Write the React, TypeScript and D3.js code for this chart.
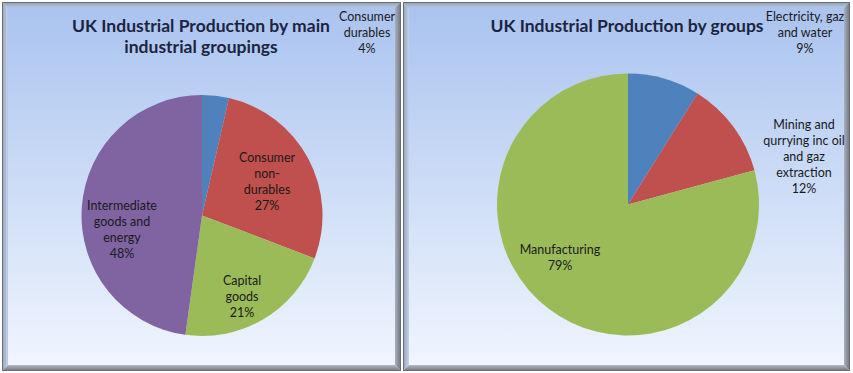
import React, { useEffect, useRef } from 'react';
import * as d3 from 'd3';

// Left chart: main industrial groupings (share of production, %)
const groupingNames = ['Consumer durables', 'Consumer non-durables', 'Capital goods', 'Intermediate goods and energy'];
const groupingValues = [3.6, 27.2, 21.4, 47.8];
const groupingLabelLines = [
  ['Consumer', 'durables'],
  ['Consumer', 'non-', 'durables'],
  ['Capital', 'goods'],
  ['Intermediate', 'goods and', 'energy'],
];

// Right chart: production by groups (%)
const groupNames = ['Electricity, gaz and water', 'Mining and qurrying inc oil and gaz extraction', 'Manufacturing'];
const groupValues = [8.9, 11.9, 79.2];
const groupLabelLines = [
  ['Electricity, gaz', 'and water'],
  ['Mining and', 'qurrying inc oil', 'and gaz', 'extraction'],
  ['Manufacturing'],
];

const sliceColors = ['#4f81bd', '#c0504d', '#9bbb59', '#8064a2'];

const W = 853;
const H = 373;

interface PanelSpec {
  x0: number;
  x1: number;
  title: string[];
  titleX: number;
  cx: number;
  cy: number;
  r: number;
  names: string[];
  values: number[];
  lines: string[][];
  labelPos: [number, number][]; // text centre x, first baseline y
}

const panels: PanelSpec[] = [
  {
    x0: 2, x1: 401,
    title: ['UK Industrial Production by main', 'industrial groupings'],
    titleX: 201,
    cx: 202, cy: 215.5, r: 120.5,
    names: groupingNames,
    values: groupingValues,
    lines: groupingLabelLines,
    labelPos: [[367, 20.5], [267, 161.5], [242, 284.5], [122, 209.5]],
  },
  {
    x0: 403, x1: 850,
    title: ['UK Industrial Production by groups'],
    titleX: 627,
    cx: 628, cy: 204.5, r: 131,
    names: groupNames,
    values: groupValues,
    lines: groupLabelLines,
    labelPos: [[805, 20.5], [804, 129], [560, 253.5]],
  },
];

const App: React.FC = () => {
  const svgRef = useRef<SVGSVGElement>(null);

  useEffect(() => {
    if (!svgRef.current) return;
    const svg = d3.select(svgRef.current);
    svg.selectAll('*').remove();

    const defs = svg.append('defs');
    const bg = defs.append('linearGradient').attr('id', 'bg').attr('x1', 0).attr('y1', 0).attr('x2', 0).attr('y2', 1);
    bg.append('stop').attr('offset', '0%').attr('stop-color', '#a9c3ef');
    bg.append('stop').attr('offset', '100%').attr('stop-color', '#f1f6fe');

    const mk = (id: string, x2: number, y2: number, c1: string, c2: string) => {
      const g = defs.append('linearGradient').attr('id', id)
        .attr('x1', 0).attr('y1', 0).attr('x2', x2).attr('y2', y2);
      g.append('stop').attr('offset', '0%').attr('stop-color', c1);
      g.append('stop').attr('offset', '100%').attr('stop-color', c2);
    };
    mk('bevT', 0, 1, '#8e9cb6', '#b9c8e4');
    mk('bevL', 1, 0, '#94a2bc', '#c3d1ea');
    mk('bevR', 1, 0, '#a9b1c0', '#6e727a');
    mk('bevB', 0, 1, '#b4bac6', '#6e727a');

    const y0 = 2;
    const y1 = 371;
    const b = 6;

    panels.forEach(p => {
      const g = svg.append('g');

      // background
      g.append('rect')
        .attr('x', p.x0).attr('y', y0)
        .attr('width', p.x1 - p.x0).attr('height', y1 - y0)
        .attr('fill', 'url(#bg)');

      // bevel frame
      const poly = (pts: number[][], fill: string) =>
        g.append('polygon').attr('points', pts.map(d => d.join(',')).join(' ')).attr('fill', fill);
      poly([[p.x0, y0], [p.x1, y0], [p.x1 - b, y0 + b], [p.x0 + b, y0 + b]], 'url(#bevT)');
      poly([[p.x0, y0], [p.x0 + b, y0 + b], [p.x0 + b, y1 - b], [p.x0, y1]], 'url(#bevL)');
      poly([[p.x1, y0], [p.x1, y1], [p.x1 - b, y1 - b], [p.x1 - b, y0 + b]], 'url(#bevR)');
      poly([[p.x0, y1], [p.x0 + b, y1 - b], [p.x1 - b, y1 - b], [p.x1, y1]], 'url(#bevB)');
      g.append('rect')
        .attr('x', p.x0 + 0.5).attr('y', y0 + 0.5)
        .attr('width', p.x1 - p.x0 - 1).attr('height', y1 - y0 - 1)
        .attr('fill', 'none').attr('stroke', '#6a6e76').attr('stroke-width', 1);

      // title
      const title = g.append('text')
        .attr('text-anchor', 'middle')
        .style('font-family', 'Lato, "Open Sans", sans-serif')
        .style('font-size', '17.5px')
        .style('font-weight', 'bold')
        .style('fill', '#1b2540');
      p.title.forEach((t, i) => {
        title.append('tspan').attr('x', p.titleX).attr('y', 31.5 + i * 21.5).text(t);
      });

      // pie
      const pie = d3.pie<number>().value(d => d).sort(null);
      const arc = d3.arc<d3.PieArcDatum<number>>().innerRadius(0).outerRadius(p.r);
      const arcs = pie(p.values);
      const total = d3.sum(p.values);

      g.append('g')
        .attr('transform', `translate(${p.cx},${p.cy})`)
        .selectAll('path')
        .data(arcs)
        .enter().append('path')
        .attr('d', arc)
        .attr('fill', (d, i) => sliceColors[i])
        .append('title')
        .text((d, i) => p.names[i]);

      // data labels
      arcs.forEach((d, i) => {
        const [lx, ly] = p.labelPos[i];
        const lines = [...p.lines[i], `${Math.round((d.data / total) * 100)}%`];
        const t = g.append('text')
          .attr('text-anchor', 'middle')
          .style('font-family', 'Lato, "Open Sans", sans-serif')
          .style('font-size', '12.5px')
          .style('fill', '#1a1a1a');
        lines.forEach((s, j) => {
          t.append('tspan').attr('x', lx).attr('y', ly + j * 16).text(s);
        });
      });
    });
  }, []);

  return (
    <svg
      ref={svgRef}
      width={W}
      height={H}
      style={{ position: 'absolute', left: 0, top: 0, background: '#ffffff' }}
    />
  );
};

export default App;
